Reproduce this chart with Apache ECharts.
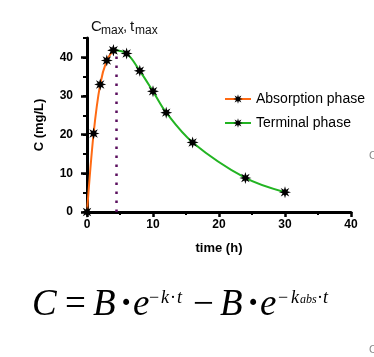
<!DOCTYPE html>
<html>
<head>
<meta charset="utf-8">
<script src="https://cdn.jsdelivr.net/npm/echarts@6/dist/echarts.min.js"></script>
<style>
html,body{margin:0;padding:0;background:#fff;}
#chart{width:374px;height:357px;}
</style>
</head>
<body>
<div id="chart"></div>
<script>
// ---- data ----
const timeAbsorption = [0, 1, 2, 3, 4];
const concAbsorption = [0, 20.3, 33, 39.2, 41.8];
const timeTerminal = [4, 6, 8, 10, 12, 16, 24, 30];
const concTerminal = [41.8, 41, 36.5, 31.2, 25.7, 18, 8.8, 5.1];
const tmax = 4.5;
const cmax = 41;
const seriesNames = ['Absorption phase', 'Terminal phase'];
const yMajorTicks = [0, 10, 20, 30, 40];
const xTicks = [0, 10, 20, 30, 40];

// ---- star marker path ----
function starPath() {
  const pts = [];
  for (let i = 0; i < 16; i++) {
    const a = i * Math.PI / 8 - Math.PI / 2;
    const r = i % 2 ? 0.45 : 1;
    pts.push((50 + 50 * r * Math.cos(a)).toFixed(2) + ' ' + (50 + 50 * r * Math.sin(a)).toFixed(2));
  }
  return 'path://M' + pts.join(' L') + ' Z';
}
const STAR = starPath();

const chart = echarts.init(document.getElementById('chart'), null, {renderer: 'canvas'});
const sans = 'Liberation Sans';
const serif = 'Liberation Serif';

function txt(x, y, text, size, opts) {
  opts = opts || {};
  return {
    type: 'text', x: x, y: y, silent: true,
    style: {
      text: text,
      fontSize: size,
      fontFamily: opts.family || serif,
      fontStyle: opts.italic ? 'italic' : 'normal',
      fontWeight: opts.bold ? 'bold' : 'normal',
      fill: opts.color || '#000',
      textVerticalAlign: 'middle',
      textAlign: 'left'
    }
  };
}

const BIG = 37, SUP = 18, SUB = 12;
const YB = 305.5, YS = 298, YA = 300;

const option = {
  animation: false,
  backgroundColor: '#fff',
  grid: {left: 87, right: 23, top: 38, bottom: 145, containLabel: false},
  legend: {
    orient: 'vertical',
    left: 219, top: 87,
    itemGap: 10,
    itemWidth: 26, itemHeight: 12,
    textStyle: {fontSize: 14, color: '#000', fontFamily: sans},
    data: seriesNames
  },
  xAxis: {
    type: 'value', min: 0, max: 40, interval: 10,
    name: 'time (h)', nameLocation: 'middle', nameGap: 30,
    nameTextStyle: {fontSize: 13, fontWeight: 'bold', color: '#000', fontFamily: sans},
    axisLine: {lineStyle: {color: '#000', width: 3}},
    axisTick: {length: 5, lineStyle: {color: '#000', width: 2.5}, customValues: xTicks},
    minorTick: {show: true, splitNumber: 2, length: 3, lineStyle: {color: '#000', width: 2}},
    splitLine: {show: false},
    axisLabel: {fontSize: 12, fontWeight: 'bold', color: '#000', fontFamily: sans, margin: 7}
  },
  yAxis: [
    {
      type: 'value', min: 0, max: 45, interval: 5, position: 'left',
      name: 'C (mg/L)', nameLocation: 'middle', nameGap: 41,
      nameTextStyle: {fontSize: 13, fontWeight: 'bold', color: '#000', fontFamily: sans},
      axisLine: {show: true, lineStyle: {color: '#000', width: 3}},
      axisTick: {show: true, length: 4, lineStyle: {color: '#000', width: 2}},
      splitLine: {show: false},
      axisLabel: {
        fontSize: 12, fontWeight: 'bold', color: '#000', fontFamily: sans, margin: 14,
        customValues: yMajorTicks
      }
    },
    {
      type: 'value', min: 0, max: 45, interval: 5, position: 'left', offset: 0,
      axisLine: {show: false},
      axisTick: {show: true, length: 6, lineStyle: {color: '#000', width: 2.5}, customValues: yMajorTicks},
      axisLabel: {show: false},
      splitLine: {show: false}
    }
  ],
  series: [
    {
      name: seriesNames[0], type: 'line', smooth: 0.35,
      data: timeAbsorption.map((t, i) => [t, concAbsorption[i]]),
      symbol: STAR, symbolSize: 12,
      lineStyle: {color: '#ff6a13', width: 2},
      itemStyle: {color: '#000'},
      z: 3,
      markLine: {
        silent: true, symbol: 'none', animation: false,
        label: {show: false},
        lineStyle: {color: '#5a0f5e', width: 2.5, type: [2.5, 6.5]},
        data: [[{coord: [tmax, 0]}, {coord: [tmax, cmax]}]]
      }
    },
    {
      name: seriesNames[1], type: 'line', smooth: 0.35,
      data: timeTerminal.map((t, i) => [t, concTerminal[i]]),
      symbol: STAR, symbolSize: 12,
      lineStyle: {color: '#22b422', width: 2},
      itemStyle: {color: '#000'},
      z: 3
    }
  ],
  graphic: [
    // title C_max, t_max
    txt(91, 27, 'C', 15, {family: sans, color: '#111'}),
    txt(101, 31, 'max', 12, {family: sans, color: '#111'}),
    txt(123, 27, ',', 15, {family: sans, color: '#111'}),
    txt(130, 27, 't', 15, {family: sans, color: '#111'}),
    txt(135, 31, 'max', 12, {family: sans, color: '#111'}),
    // formula
    txt(32, YB, 'C', BIG, {italic: true}),
    txt(65, YB, '=', BIG),
    txt(93, YB, 'B', BIG, {italic: true}),
    txt(120, YB, '·', BIG, {bold: true}),
    txt(133, YB, 'e', BIG, {italic: true}),
    txt(149, YS, '−', SUP),
    txt(161, YS, 'k', SUP, {italic: true}),
    txt(170, YS, '·', SUP),
    txt(177, YS, 't', SUP, {italic: true}),
    txt(193, YB, '−', BIG),
    txt(220, YB, 'B', BIG, {italic: true}),
    txt(247, YB, '·', BIG, {bold: true}),
    txt(260, YB, 'e', BIG, {italic: true}),
    txt(278, YS, '−', SUP),
    txt(291, YS, 'k', SUP, {italic: true}),
    txt(300, YA, 'abs', SUB, {italic: true}),
    txt(317, YS, '·', SUP),
    txt(323, YS, 't', SUP, {italic: true}),
    // cropped edge marks
    txt(369, 156, 'C', 11, {family: sans, color: '#888'}),
    txt(369, 350, 'C', 11, {family: sans, color: '#888'})
  ]
};
chart.setOption(option);
</script>
</body>
</html>
